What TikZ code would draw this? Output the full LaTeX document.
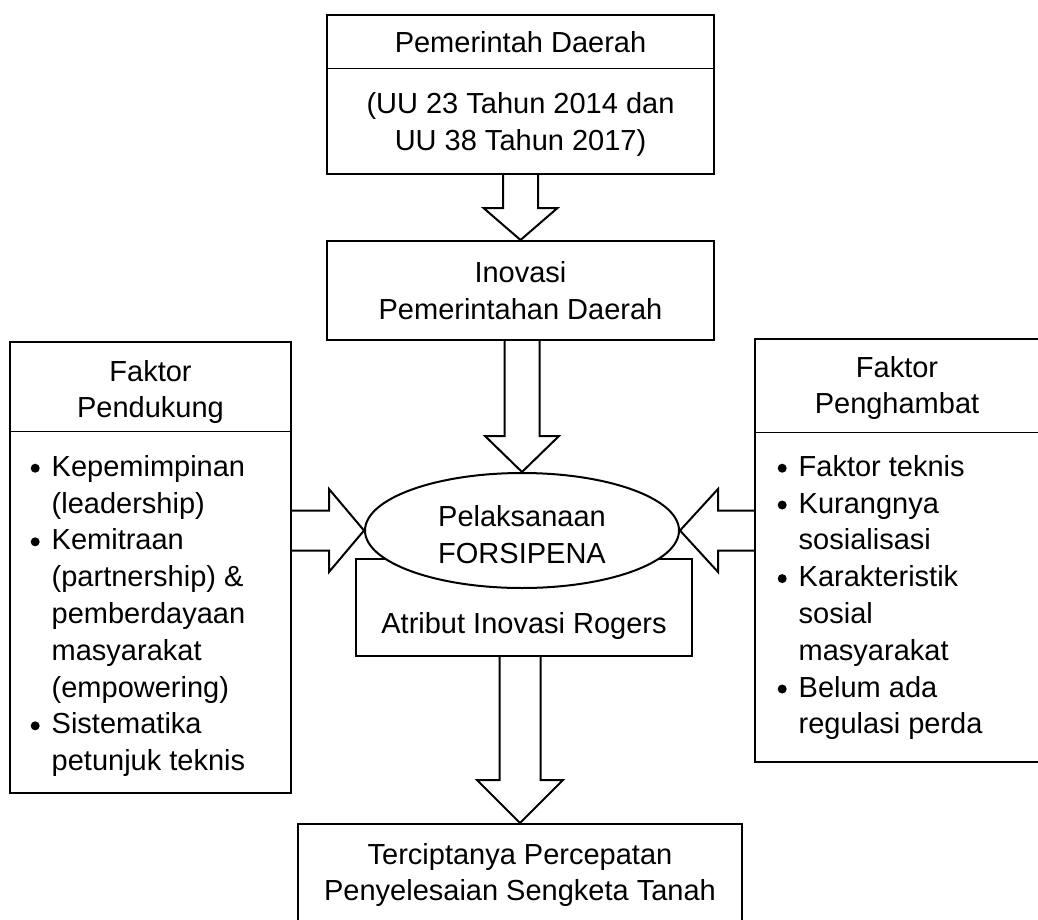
\documentclass[tikz,border=0pt]{standalone}
\usepackage{fontspec}
\setmainfont{Liberation Sans}
\usetikzlibrary{shapes.geometric,calc}
\tikzset{
 box/.style={draw, line width=2pt, rectangle, inner sep=0pt},
 txt/.style={inner sep=0pt, align=center, font=\fontsize{29}{36.8}\selectfont},
 lst/.style={inner sep=0pt, align=left, anchor=north west, font=\fontsize{29}{36.8}\selectfont},
 blk/.style={draw, line width=2pt, line join=miter},
 sep/.style={draw, line width=1pt},
}
\newcommand\blt{\makebox[21pt][l]{\raisebox{3.5pt}{\tikz\fill (0,0) circle (4.5pt);}}}
\newcommand\ind{\hspace*{21pt}}
\newcommand\dnarrow[5]{\draw[blk] let \p1=(#1), \p2=(#2) in (\x2-#3,\y1) -- (\x2-#3,\y2+#5) -- (\x2-#4,\y2+#5) -- (\x2,\y2) -- (\x2+#4,\y2+#5) -- (\x2+#3,\y2+#5) -- (\x2+#3,\y1);}
\newcommand\rtarrow[5]{\draw[blk] let \p1=(#1), \p2=(#2) in (\x1,\y2+#3) -- (\x2-#5,\y2+#3) -- (\x2-#5,\y2+#4) -- (\x2,\y2) -- (\x2-#5,\y2-#4) -- (\x2-#5,\y2-#3) -- (\x1,\y2-#3);}
\newcommand\ltarrow[5]{\draw[blk] let \p1=(#1), \p2=(#2) in (\x1,\y2+#3) -- (\x2+#5,\y2+#3) -- (\x2+#5,\y2+#4) -- (\x2,\y2) -- (\x2+#5,\y2-#4) -- (\x2+#5,\y2-#3) -- (\x1,\y2-#3);}
\begin{document}
\begin{tikzpicture}[x=1pt,y=-1pt]
\useasboundingbox (0,0) rectangle (1038,920);
\fill[white] (0,0) rectangle (1038,920);
\clip (0,0) rectangle (1038,920);

% top box
\node[box, minimum width=387pt, minimum height=159pt] (top) at (520.5,94.5) {};
\draw[sep] (top.west |- 0,69) -- (top.east |- 0,69);
\node[txt] (toph) at (520.5,42) {Pemerintah Daerah};
\node[txt] (topb) at (520.5,124.5) {(UU 23 Tahun 2014 dan\\UU 38 Tahun 2017)};

% inovasi
\node[box, txt, minimum width=387pt, minimum height=99pt] (ino) at (520.5,290.5) {Inovasi\\Pemerintahan Daerah};

% left box
\node[box, minimum width=281pt, minimum height=451pt] (lbox) at (150.5,567.5) {};
\draw[sep] (lbox.west |- 0,431) -- (lbox.east |- 0,431);
\node[txt] (lhead) at (150.5,392) {Faktor\\Pendukung};
\node[lst] (llist) at (30.5,455) {\blt Kepemimpinan\\\ind(leadership)\\\blt Kemitraan\\\ind(partnership) \&\\\ind pemberdayaan\\\ind masyarakat\\\ind(empowering)\\\blt Sistematika\\\ind petunjuk teknis};

% right box
\node[box, minimum width=285pt, minimum height=423pt] (rbox) at (897.5,550.5) {};
\draw[sep] (rbox.west |- 0,432) -- (rbox.east |- 0,432);
\node[txt] (rhead) at (897,388) {Faktor\\Penghambat};
\node[lst] (rlist) at (777.5,455) {\blt Faktor teknis\\\blt Kurangnya\\\ind sosialisasi\\\blt Karakteristik\\\ind sosial\\\ind masyarakat\\\blt Belum ada\\\ind regulasi perda};

% atribut box and ellipse
\node[box, minimum width=336pt, minimum height=97pt] (atr) at (524,607.5) {};
\node[txt] (atrt) at (524,626) {Atribut Inovasi Rogers};
\node[ellipse, draw, line width=2pt, fill=white, inner sep=0pt, minimum width=314pt, minimum height=115pt] (ell) at (522,530.5) {};
\node[txt] (ellt) at (522,535) {Pelaksanaan\\FORSIPENA};

% bottom box
\node[box, minimum width=444pt, minimum height=136pt] (bot) at (520,892) {};
\node[txt] (bott) at (520,875) {Terciptanya Percepatan\\Penyelesaian Sengketa Tanah};

% block arrows
\dnarrow{top.south}{ino.north}{17.5pt}{37pt}{32pt}
\dnarrow{ino.south}{ell.north}{17.5pt}{37pt}{36pt}
\dnarrow{atr.south}{bot.north}{20.5pt}{43pt}{43pt}
\rtarrow{lbox.east}{ell.west}{20pt}{41.5pt}{35pt}
\ltarrow{rbox.west}{ell.east}{20pt}{41.5pt}{38pt}
\end{tikzpicture}
\end{document}
